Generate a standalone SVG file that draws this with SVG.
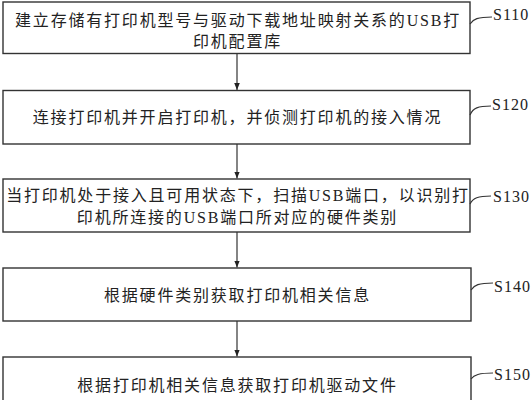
<svg xmlns="http://www.w3.org/2000/svg" width="532" height="400" viewBox="0 0 532 400">
<defs>
<style>
.box{fill:#fff;stroke:#333;stroke-width:1.4}
.t{font-family:"Liberation Serif","Noto Sans CJK SC",serif;font-size:16px;letter-spacing:1.8px;fill:#222;text-anchor:middle}
.lbl{font-family:"Liberation Serif",serif;font-size:16px;letter-spacing:1px;fill:#222}
.ln{fill:none;stroke:#333;stroke-width:1.2}
.ld{fill:none;stroke:#333;stroke-width:1.2}
</style>
<marker id="ah" viewBox="0 0 10 10" refX="10" refY="5" markerWidth="7" markerHeight="7" markerUnits="userSpaceOnUse" orient="auto">
<path d="M0,1 L10,5 L0,9 Z" fill="#222"/>
</marker>
</defs>
<rect width="532" height="400" fill="#fff"/>
<g id="connectors">
<line class="ln" x1="237" y1="53.5" x2="237" y2="90" marker-end="url(#ah)"/>
<line class="ln" x1="237" y1="144" x2="237" y2="178.5" marker-end="url(#ah)"/>
<line class="ln" x1="237" y1="232" x2="237" y2="267.5" marker-end="url(#ah)"/>
<line class="ln" x1="237" y1="321" x2="237" y2="356.5" marker-end="url(#ah)"/>
</g>
<g id="S110">
<rect class="box" x="3" y="2" width="467" height="51.5"/>
<text class="t" x="238" y="26">建立存储有打印机型号与驱动下载地址映射关系的USB打</text>
<text class="t" x="237.5" y="46.5">印机配置库</text>
<path class="ld" d="M470,24 C473,19 478,17 492,17"/>
<text class="lbl" x="493" y="19.5">S110</text>
</g>
<g id="S120">
<rect class="box" x="3" y="90.5" width="467" height="53.5"/>
<text class="t" x="237.5" y="123">连接打印机并开启打印机，并侦测打印机的接入情况</text>
<path class="ld" d="M470,115 C473,108 478,106 491,106"/>
<text class="lbl" x="492" y="110">S120</text>
</g>
<g id="S130">
<rect class="box" x="3" y="179" width="467" height="53"/>
<text class="t" x="238" y="201">当打印机处于接入且可用状态下，扫描USB端口，以识别打</text>
<text class="t" x="237.5" y="223">印机所连接的USB端口所对应的硬件类别</text>
<path class="ld" d="M470,204 C473,198 478,196 491,196"/>
<text class="lbl" x="493" y="202">S130</text>
</g>
<g id="S140">
<rect class="box" x="3" y="268" width="468" height="53"/>
<text class="t" x="237.5" y="300.5">根据硬件类别获取打印机相关信息</text>
<path class="ld" d="M471,290 C474,285 479,283 493,283"/>
<text class="lbl" x="494" y="292">S140</text>
</g>
<g id="S150">
<rect class="box" x="3" y="357" width="468" height="54"/>
<text class="t" x="237.5" y="391">根据打印机相关信息获取打印机驱动文件</text>
<path class="ld" d="M471,379 C474,375 479,373 493,373"/>
<text class="lbl" x="494" y="380">S150</text>
</g>
</svg>
